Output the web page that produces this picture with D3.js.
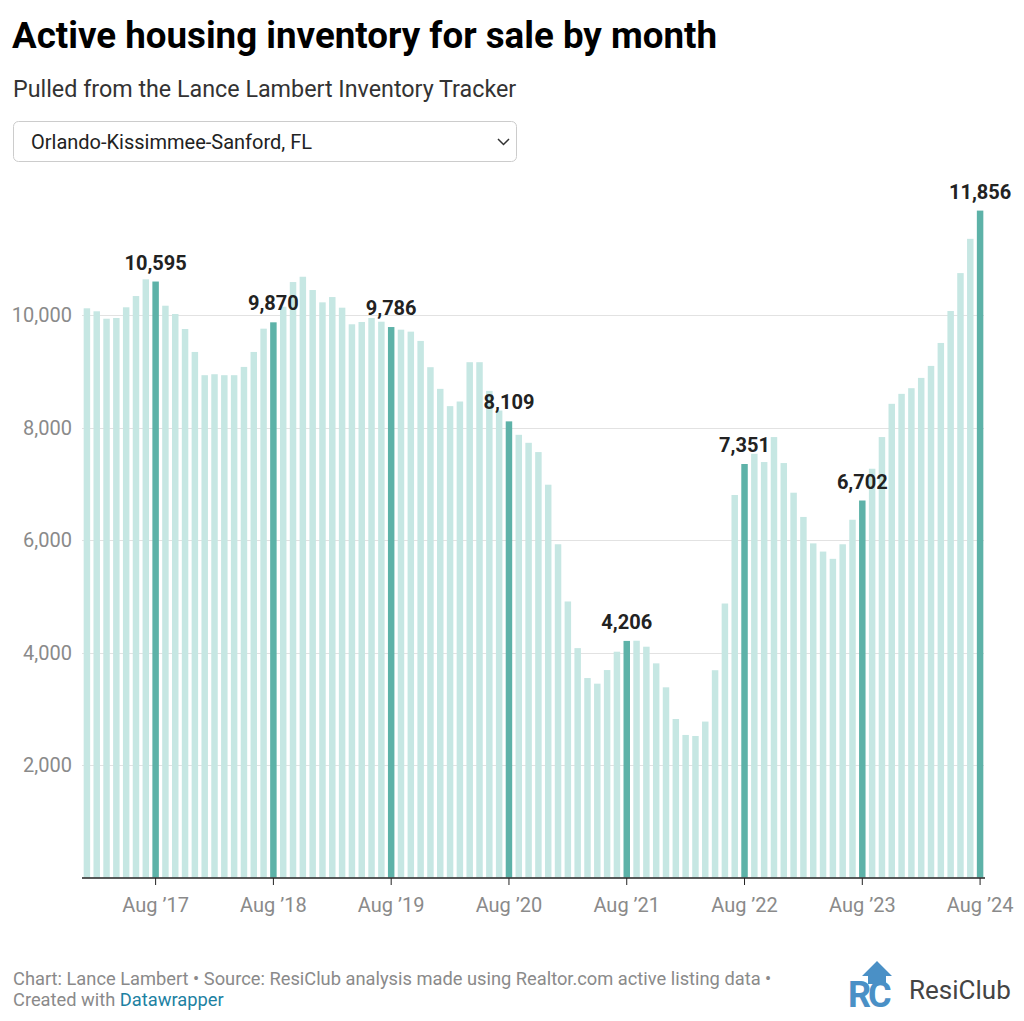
<!DOCTYPE html>
<html>
<head>
<meta charset="utf-8">
<script src="https://cdn.jsdelivr.net/npm/d3@7"></script>
<style>
  html, body { margin: 0; padding: 0; background: #fff; }
  body { width: 1024px; height: 1021px; overflow: hidden; font-family: Roboto, "Noto Sans", sans-serif; }
  svg text { font-family: Roboto, "Noto Sans", sans-serif; }
</style>
</head>
<body>
<svg id="chart" width="1024" height="1021"></svg>
<script>
// ---- Data ----
const startMonth = new Date(2017, 0, 1);
const endMonth = new Date(2024, 8, 1);
const months = d3.timeMonths(startMonth, endMonth); // Jan 2017 .. Aug 2024

const inventory = [
  10119, 10066, 9934, 9947, 10137, 10337, 10634, 10595, 10165, 10018, 9751, 9343,
  8930, 8947, 8930, 8930, 9077, 9343, 9757, 9870, 10147, 10586, 10680, 10444,
  10225, 10319, 10130, 9835, 9876, 9947, 9881, 9786, 9739, 9704, 9539, 9072,
  8687, 8380, 8462, 9161, 9161, 8651, 8302, 8109, 7870, 7728, 7563, 6983,
  5924, 4907, 4078, 3546, 3446, 3688, 4014, 4206, 4209, 4103, 3807, 3381,
  2818, 2534, 2516, 2772, 3685, 4871, 6800, 7351, 7533, 7386, 7830, 7368,
  6841, 6410, 5940, 5794, 5665, 5924, 6360, 6702, 7267, 7830, 8421, 8598,
  8699, 8882, 9095, 9503, 10071, 10745, 11354, 11856
];

const yTicks = [2000, 4000, 6000, 8000, 10000];
const xTickLabels = ["Aug ’17", "Aug ’18", "Aug ’19", "Aug ’20", "Aug ’21", "Aug ’22", "Aug ’23", "Aug ’24"];

const title = "Active housing inventory for sale by month";
const subtitle = "Pulled from the Lance Lambert Inventory Tracker";
const dropdownText = "Orlando-Kissimmee-Sanford, FL";
const footer1 = "Chart: Lance Lambert • Source: ResiClub analysis made using Realtor.com active listing data •";

const data = months.map((m, i) => ({ month: m, value: inventory[i], highlight: m.getMonth() === 7 }));

// ---- Drawing ----
const svg = d3.select("#chart");
const fmt = d3.format(",");

svg.append("text").attr("x", 12).attr("y", 48)
  .attr("font-size", 36).attr("font-weight", 700).attr("fill", "#000")
  .attr("textLength", 705).attr("lengthAdjust", "spacingAndGlyphs")
  .text(title);

svg.append("text").attr("x", 13).attr("y", 97)
  .attr("font-size", 23.3).attr("fill", "#333")
  .text(subtitle);

// dropdown
svg.append("rect").attr("x", 13.5).attr("y", 121.5).attr("width", 503).attr("height", 40)
  .attr("rx", 5).attr("fill", "#fff").attr("stroke", "#ccc").attr("stroke-width", 1);
svg.append("text").attr("x", 31).attr("y", 149)
  .attr("font-size", 20).attr("fill", "#222").text(dropdownText);
svg.append("path").attr("d", "M498,139 L503.5,144.5 L509,139")
  .attr("fill", "none").attr("stroke", "#333").attr("stroke-width", 1.5);

// scales
const x = d3.scaleBand().domain(d3.range(data.length)).range([82, 985]).paddingInner(0.34).paddingOuter(0.17);
const y = d3.scaleLinear().domain([0, 10000]).range([877.5, 315]);

// gridlines
svg.append("g").selectAll("line").data(yTicks).join("line")
  .attr("x1", 82).attr("x2", 984)
  .attr("y1", d => Math.round(y(d)) + 0.5).attr("y2", d => Math.round(y(d)) + 0.5)
  .attr("stroke", "#e2e2e2").attr("stroke-width", 1);

// y labels
svg.append("g").selectAll("text").data(yTicks).join("text")
  .attr("x", 72).attr("y", d => y(d) + 7)
  .attr("text-anchor", "end").attr("font-size", 20).attr("fill", "#8a8a8a")
  .text(d => fmt(d));

// bars
svg.append("g").selectAll("rect").data(data).join("rect")
  .attr("x", (d, i) => x(i)).attr("width", x.bandwidth())
  .attr("y", d => y(d.value)).attr("height", d => y(0) - y(d.value))
  .attr("fill", d => d.highlight ? "#5db2a8" : "#c6e7e3");

// value labels
svg.append("g").selectAll("text").data(data.filter(d => d.highlight)).join("text")
  .attr("x", d => x(data.indexOf(d)) + x.bandwidth() / 2)
  .attr("y", d => y(d.value) - 12)
  .attr("text-anchor", "middle").attr("font-size", 20).attr("font-weight", 700).attr("fill", "#222")
  .text(d => fmt(d.value));

// x axis
const augIdx = data.map((d, i) => d.highlight ? i : -1).filter(i => i >= 0);
const xAxis = d3.axisBottom(x).tickValues(augIdx).tickSize(7).tickPadding(13)
  .tickFormat((d, i) => xTickLabels[i]);
const gx = svg.append("g").attr("transform", "translate(0,878)").call(xAxis);
gx.select(".domain").attr("d", "M82,0H985").attr("stroke", "#222").attr("stroke-width", 1.5);
gx.selectAll(".tick line").attr("stroke", "#222");
gx.selectAll(".tick text").attr("font-size", 20).attr("fill", "#8a8a8a")
  .attr("font-family", "Roboto, sans-serif");

// footer
svg.append("text").attr("x", 13).attr("y", 985)
  .attr("font-size", 18.3).attr("fill", "#8a8a8a").text(footer1);
const f2 = svg.append("text").attr("x", 13).attr("y", 1006).attr("font-size", 18.3).attr("fill", "#8a8a8a");
f2.append("tspan").text("Created with ");
f2.append("tspan").attr("fill", "#1d81a2").text("Datawrapper");

// logo
const logo = svg.append("g");
logo.append("path").attr("d", "M862,976 L877,961 L892,976 L886,976 L886,984 L868,984 L868,976 Z").attr("fill", "#4a90c6");
logo.append("text").attr("x", 848).attr("y", 1007).attr("font-size", 36).attr("font-weight", 700)
  .attr("fill", "#4a90c6").attr("letter-spacing", -3).text("RC");
logo.append("text").attr("x", 909).attr("y", 999).attr("font-size", 26).attr("fill", "#444").text("ResiClub");
</script>
</body>
</html>
